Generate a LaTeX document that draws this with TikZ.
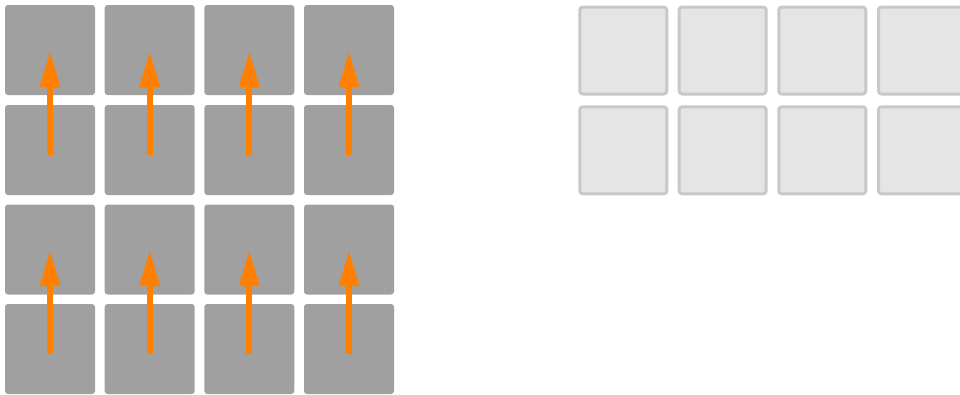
\documentclass[tikz,border=0pt]{standalone}
\usetikzlibrary{arrows.meta}
\definecolor{darkcell}{HTML}{A0A0A0}
\definecolor{lightcell}{HTML}{E5E5E5}
\definecolor{lightedge}{HTML}{C8C8C8}
\definecolor{arrorange}{HTML}{FF7F00}
\begin{document}
\begin{tikzpicture}[x=1pt,y=-1pt,
  darkbox/.style={fill=darkcell,draw=none,rounded corners=3pt,minimum size=90pt,inner sep=0pt,outer sep=0pt},
  lightbox/.style={fill=lightcell,draw=lightedge,line width=3pt,rounded corners=3pt,minimum size=87pt,inner sep=0pt,outer sep=0pt},
  uparrow/.style={draw=arrorange,line width=6pt,-{Triangle[length=36pt,width=19pt]}}]
\useasboundingbox (0,0) rectangle (960,394);
\clip (0,0) rectangle (960,394);
\foreach \c/\x in {1/50,2/149.7,3/249.3,4/349}{
  \foreach \r/\y in {1/50,2/150,3/249.5,4/349}{
    \node[darkbox] (d\r\c) at (\x,\y) {};
  }
}
\foreach \c/\x in {1/623.3,2/722.7,3/822.3,4/922}{
  \foreach \r/\y in {1/50.5,2/150.3}{
    \node[lightbox] (l\r\c) at (\x,\y) {};
  }
}
\foreach \c in {1,2,3,4}{
  \draw[uparrow] ([yshift=-4.5pt]d2\c.center) -- ([yshift=-1pt]d1\c.center);
  \draw[uparrow] ([yshift=-4.5pt]d4\c.center) -- ([yshift=-0.5pt]d3\c.center);
}
\end{tikzpicture}
\end{document}
